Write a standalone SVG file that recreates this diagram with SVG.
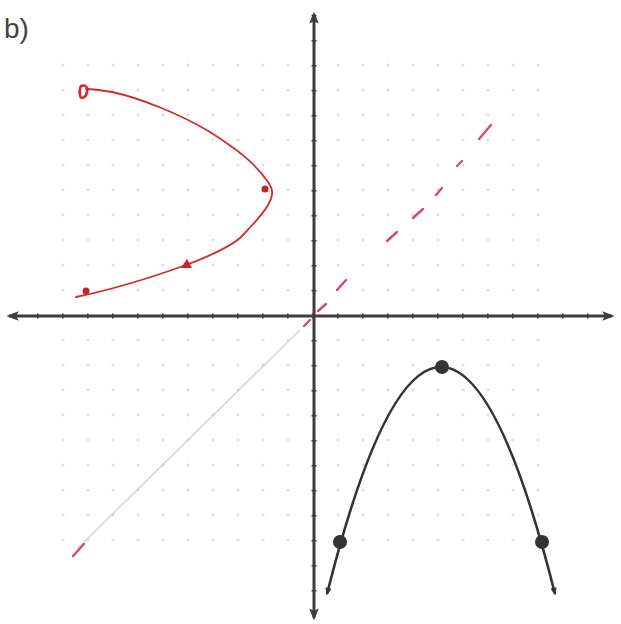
<svg xmlns="http://www.w3.org/2000/svg" width="621" height="624" viewBox="0 0 621 624">
  <defs>
    <style>
      .axis { stroke: #3d3d3d; stroke-width: 3; fill: none; }
      .tick { stroke: #3d3d3d; stroke-width: 5; fill: none; stroke-dasharray: 1.6 23.4; }
      .red { stroke: #d12b2b; stroke-width: 1.8; fill: none; stroke-linecap: round; stroke-linejoin: round; }
      .black { stroke: #333; stroke-width: 2.6; fill: none; }
      .dash { stroke: #d9457a; stroke-width: 2.4; stroke-linecap: round; }
      .faint { stroke: #c8c8c8; stroke-width: 1.6; stroke-linecap: round; opacity: 0.7; }
      .label { font-family: "Liberation Sans", Arial, sans-serif; font-size: 28px; fill: #444; }
    </style>
    <pattern id="dots" patternUnits="userSpaceOnUse" x="50.5" y="52.5" width="25" height="25">
      <circle cx="12.5" cy="12.5" r="1.3" fill="#9a9a9a"/>
    </pattern>
    <marker id="ah" viewBox="0 0 10 10" refX="8" refY="5" markerWidth="4" markerHeight="4" orient="auto-start-reverse" markerUnits="strokeWidth">
      <path d="M0,1 L10,5 L0,9 L2,5 Z" fill="#3d3d3d"/>
    </marker>
    <marker id="ch" viewBox="0 0 10 10" refX="8" refY="5" markerWidth="3" markerHeight="3" orient="auto-start-reverse" markerUnits="strokeWidth">
      <path d="M0,1 L10,5 L0,9 Z" fill="#333"/>
    </marker>
  </defs>

  <rect width="621" height="624" fill="#ffffff"/>

  <text class="label" x="4" y="38">b)</text>

  <g id="grid" opacity="0.45">
    <rect x="50" y="52" width="500" height="500" fill="url(#dots)"/>
  </g>

  <g id="reflection-line">
    <line class="faint" x1="78" y1="548" x2="300" y2="330"/>
    <line class="dash" x1="73" y1="556" x2="84" y2="544"/>
    <line class="dash" x1="304" y1="326" x2="310" y2="320"/>
    <line class="dash" x1="318" y1="311" x2="326" y2="304"/>
    <line class="dash" x1="337" y1="290" x2="346" y2="280"/>
    <line class="dash" x1="387" y1="241" x2="397" y2="232"/>
    <line class="dash" x1="413" y1="218" x2="423" y2="209"/>
    <line class="dash" x1="436" y1="195" x2="442" y2="188"/>
    <line class="dash" x1="457" y1="166" x2="462" y2="161"/>
    <line class="dash" x1="479" y1="139" x2="491" y2="125"/>
  </g>

  <g id="axes">
    <line class="axis" x1="9" y1="316" x2="612" y2="316" marker-start="url(#ah)" marker-end="url(#ah)"/>
    <line class="axis" x1="314" y1="14" x2="314" y2="618" marker-start="url(#ah)" marker-end="url(#ah)"/>
    <line class="tick" x1="13" y1="316" x2="610" y2="316" stroke-dashoffset="-24"/>
    <line class="tick" x1="314" y1="15" x2="314" y2="615" stroke-dashoffset="-25"/>
  </g>

  <g id="red-curve">
    <path class="red" d="M76,297 C110,290 150,278 186,265 C210,256 228,248 240,238 C252,226 262,215 268,205 C273,196 274,190 268,182 C255,163 238,150 210,132 C180,114 140,98 112,92 C100,90 92,89 86,89"/>
    <path d="M81,86 C86,84 88,88 87,92 C86,98 80,100 80,95 C79,91 80,88 81,86 Z" fill="none" stroke="#d12b2b" stroke-width="2.6"/>
    <circle cx="265" cy="189" r="3.5" fill="#c92424"/>
    <path d="M181,268 L187,259 L192,268 Z" fill="#c92424"/>
    <circle cx="86" cy="291" r="3.5" fill="#c92424"/>
  </g>

  <g id="black-curve">
    <path class="black" d="M327,594 Q441,140 555,594" marker-start="url(#ch)" marker-end="url(#ch)"/>
    <circle cx="340" cy="542" r="7" fill="#333"/>
    <circle cx="442" cy="367" r="7" fill="#333"/>
    <circle cx="542" cy="542" r="7" fill="#333"/>
  </g>
</svg>
